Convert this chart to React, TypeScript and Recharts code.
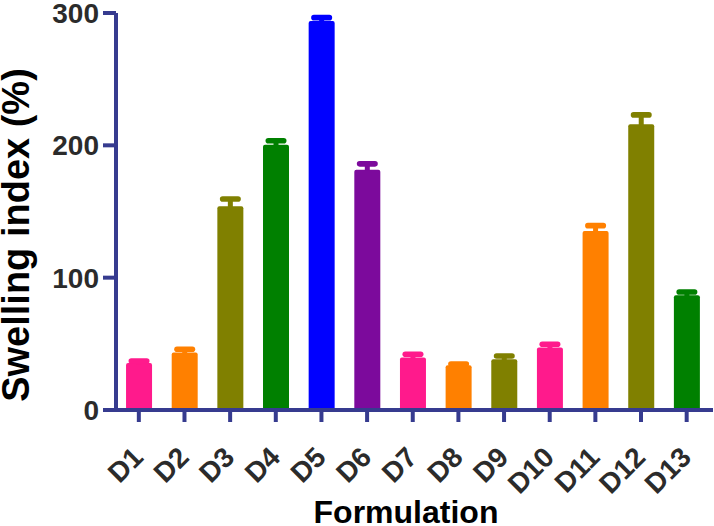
import React from 'react';
import { BarChart, Bar, XAxis, YAxis, ReferenceLine } from 'recharts';

const formulations = ['D1', 'D2', 'D3', 'D4', 'D5', 'D6', 'D7', 'D8', 'D9', 'D10', 'D11', 'D12', 'D13'];
const swelling = [35.5, 43.4, 154, 200.5, 294, 181.5, 39.6, 33.8, 38.3, 47.2, 135.3, 216, 86.7];
const swellingSd = [1.5, 2.5, 5.5, 3, 2.5, 4.5, 2.5, 1, 2.5, 2.5, 4, 7, 2.5];
const yTicks = [0, 100, 200, 300];

const PINK = '#ff1a8c';
const ORANGE = '#ff8000';
const OLIVE = '#808000';
const GREEN = '#008000';
const BLUE = '#0000ff';
const PURPLE = '#7c0a9c';
const barColors = [PINK, ORANGE, OLIVE, GREEN, BLUE, PURPLE, PINK, ORANGE, OLIVE, PINK, ORANGE, OLIVE, GREEN];

const AXIS = '#363b8f';
const FONT = 'Arial, "Liberation Sans", sans-serif';

const rows = formulations.map((name, i) => ({
  name,
  value: swelling[i],
  sd: swellingSd[i],
  color: barColors[i],
}));

// bar + upper error cap, same colour as the bar (GraphPad style)
const BarWithError = (props: any) => {
  const { x, y, width, height, payload } = props;
  if (!height) return null;
  const pxPer = height / payload.value;
  const errPx = payload.sd * pxPer;
  const cx = x + width / 2;
  const top = y - errPx;
  return (
    <g fill={payload.color}>
      <rect x={x} y={y} width={width} height={height} rx={2} />
      <rect x={cx - 2.5} y={top} width={5} height={errPx + 1} />
      <rect x={cx - 10.5} y={top - 2.8} width={21} height={5.6} rx={2.8} />
    </g>
  );
};

const YTick = (props: any) => {
  const { x, y, payload } = props;
  return (
    <g>
      <line x1={x} x2={x + 13} y1={y} y2={y} stroke={AXIS} strokeWidth={4} />
      <text x={x - 4} y={y} dy="0.36em" textAnchor="end" fontSize={28} fontWeight="bold" fill="#2b2b2b" fontFamily={FONT}>
        {payload.value}
      </text>
    </g>
  );
};

const XTick = (props: any) => {
  const { x, y, payload } = props;
  const tx = x + 6;
  const ty = y + 37;
  return (
    <text x={tx} y={ty} textAnchor="end" transform={`rotate(-45, ${tx}, ${ty})`} fontSize={28} fontWeight="bold" fill="#2b2b2b" fontFamily={FONT}>
      {payload.value}
    </text>
  );
};

const XLabel = () => (
  <text x={406} y={523} textAnchor="middle" fontSize={32} fontWeight="bold" fill="#000" fontFamily={FONT}>
    Formulation
  </text>
);

const YLabel = () => (
  <text x={29} y={235} textAnchor="middle" transform="rotate(-90, 29, 235)" fontSize={38} fontWeight="bold" fill="#000" fontFamily={FONT}>
    Swelling index (%)
  </text>
);

export default function App() {
  return (
    <div style={{ position: 'absolute', left: 0, top: 0, width: 714, height: 526, background: '#fff' }}>
      <BarChart width={714} height={526} data={rows} margin={{ top: 13, right: 1, left: 0, bottom: 16 }} barCategoryGap="22%">
        <XAxis
          dataKey="name"
          interval={0}
          padding={{ left: 13, right: 3.5 }}
          height={100}
          axisLine={{ stroke: AXIS, strokeWidth: 4 }}
          tickLine={{ stroke: AXIS, strokeWidth: 4 }}
          tickSize={12}
          tickMargin={0}
          tick={<XTick />}
          label={<XLabel />}
        />
        <YAxis
          domain={[0, 300]}
          ticks={yTicks}
          width={103}
          axisLine={false}
          tickLine={false}
          tickSize={0}
          tickMargin={0}
          tick={<YTick />}
          label={<YLabel />}
        />
        <ReferenceLine x="D1" position="start" stroke={AXIS} strokeWidth={4} />
        <Bar dataKey="value" shape={<BarWithError />} isAnimationActive={false} />
      </BarChart>
    </div>
  );
}
